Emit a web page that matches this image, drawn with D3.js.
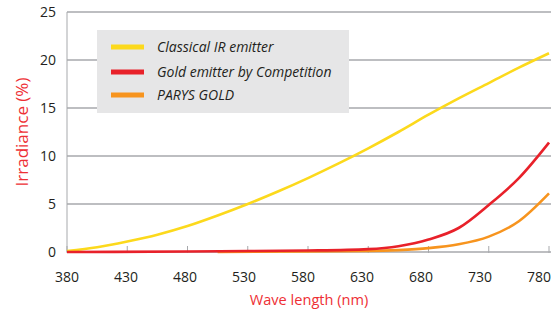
<!DOCTYPE html>
<html>
<head>
<meta charset="utf-8">
<script src="https://cdn.jsdelivr.net/npm/d3@7"></script>
<style>
  body { margin: 0; background: #fff; }
  svg { display: block; font-family: "Open Sans", "DejaVu Sans", sans-serif; }
</style>
</head>
<body>
<svg id="chart" width="557" height="312"></svg>
<script>
// data
const classicalWl = [380, 405, 430, 455, 480, 505, 530, 555, 580, 605, 630, 655, 680, 705, 730, 755, 780];
const classicalVal = [0.1, 0.5, 1.1, 1.8, 2.7, 3.8, 5.0, 6.3, 7.7, 9.2, 10.8, 12.5, 14.3, 16.0, 17.6, 19.2, 20.7];
const goldWl = [380, 480, 530, 580, 630, 655, 680, 705, 730, 755, 780];
const goldVal = [0, 0.05, 0.1, 0.15, 0.3, 0.6, 1.3, 2.5, 4.9, 7.7, 11.4];
const parysWl = [505, 580, 630, 655, 680, 705, 730, 755, 780];
const parysVal = [0, 0.05, 0.1, 0.2, 0.4, 0.8, 1.6, 3.2, 6.1];
const xTicks = [380, 430, 480, 530, 580, 630, 680, 730, 780];
const yTicks = [0, 5, 10, 15, 20, 25];
const seriesNames = ["Classical IR emitter", "Gold emitter by Competition", "PARYS GOLD"];
const seriesColors = ["#fcd91c", "#e8212a", "#f7941e"];

const svg = d3.select("#chart");
const grey = "#a7a9ac";

let x = d3.scaleLinear().domain([380, 780]).range([67, 549]);
let y = d3.scaleLinear().domain([0, 25]).range([252, 12]);
// the tick labels in the original sit on a slightly tighter spacing than the ticks
let xLabel = d3.scalePoint().domain(xTicks).range([67, 539]);

// horizontal grid
svg.append("g")
  .selectAll("line")
  .data(yTicks.slice(1))
  .enter().append("line")
    .attr("x1", x(380)).attr("x2", 551)
    .attr("y1", d => y(d)).attr("y2", d => y(d))
    .attr("stroke", grey).attr("stroke-width", 1.6);

// left axis line
svg.append("line")
  .attr("x1", x(380)).attr("x2", x(380))
  .attr("y1", y(25)).attr("y2", y(0))
  .attr("stroke", grey).attr("stroke-width", 1);

// x axis baseline + ticks
svg.append("line")
  .attr("x1", x(380)).attr("x2", 551)
  .attr("y1", y(0)).attr("y2", y(0))
  .attr("stroke", grey).attr("stroke-width", 1.6);
svg.append("g")
  .selectAll("line")
  .data(xTicks)
  .enter().append("line")
    .attr("x1", d => x(d)).attr("x2", d => x(d))
    .attr("y1", y(0) - 6).attr("y2", y(0) + 1)
    .attr("stroke", grey).attr("stroke-width", 1);

// tick labels
svg.append("g")
  .selectAll("text")
  .data(yTicks)
  .enter().append("text")
    .attr("x", 56).attr("y", d => y(d))
    .attr("dy", "0.36em")
    .attr("text-anchor", "end")
    .attr("font-size", 14).attr("fill", "#231f20")
    .text(d => d);
svg.append("g")
  .selectAll("text")
  .data(xTicks)
  .enter().append("text")
    .attr("x", d => xLabel(d)).attr("y", 282)
    .attr("text-anchor", "middle")
    .attr("font-size", 14).attr("fill", "#231f20")
    .text(d => d);

// axis titles
svg.append("text")
  .attr("transform", "translate(28,132) rotate(-90)")
  .attr("text-anchor", "middle")
  .attr("font-size", 17).attr("fill", "#ee2f35")
  .text("Irradiance (%)");
svg.append("text")
  .attr("x", 309).attr("y", 305)
  .attr("text-anchor", "middle")
  .attr("font-size", 14.6).attr("fill", "#ee2f35")
  .text("Wave length (nm)");

// legend
svg.append("rect")
  .attr("x", 97).attr("y", 30)
  .attr("width", 252).attr("height", 83)
  .attr("fill", "#e6e6e7");
const legend = svg.append("g")
  .selectAll("g")
  .data(seriesNames)
  .enter().append("g")
    .attr("transform", (d, i) => "translate(0," + [47, 72, 95][i] + ")");
legend.append("line")
  .attr("x1", 111).attr("x2", 144)
  .attr("stroke", (d, i) => seriesColors[i]).attr("stroke-width", 5);
legend.append("text")
  .attr("x", 157).attr("dy", "0.35em")
  .attr("font-size", 14).attr("font-style", "italic").attr("fill", "#231f20")
  .text(d => d);

// curves
const line = d3.line()
  .x(d => x(d[0]))
  .y(d => y(d[1]))
  .curve(d3.curveMonotoneX);

const series = [
  d3.zip(classicalWl, classicalVal),
  d3.zip(goldWl, goldVal),
  d3.zip(parysWl, parysVal)
];
[0, 2, 1].forEach(i => {
  svg.append("path")
    .attr("d", line(series[i]))
    .attr("fill", "none")
    .attr("stroke", seriesColors[i])
    .attr("stroke-width", 2.6);
});
</script>
</body>
</html>
